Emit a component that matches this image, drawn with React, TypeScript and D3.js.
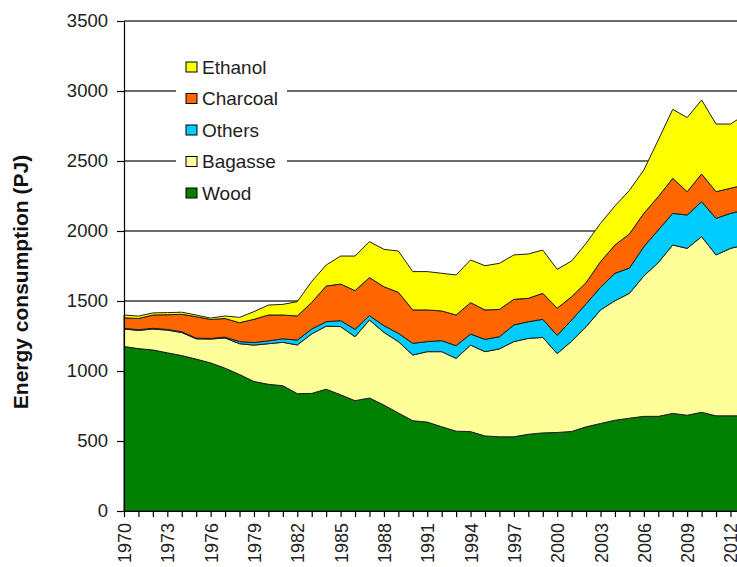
import React, { useRef, useEffect } from "react";
import * as d3 from "d3";

// years 1970..2013 (last one falls just outside the visible frame)
const years = [
  1970, 1971, 1972, 1973, 1974, 1975, 1976, 1977, 1978, 1979,
  1980, 1981, 1982, 1983, 1984, 1985, 1986, 1987, 1988, 1989,
  1990, 1991, 1992, 1993, 1994, 1995, 1996, 1997, 1998, 1999,
  2000, 2001, 2002, 2003, 2004, 2005, 2006, 2007, 2008, 2009,
  2010, 2011, 2012, 2013,
];

// PJ per source
const wood = [
  1175, 1160, 1150, 1130, 1110, 1085, 1058, 1020, 975, 925,
  905, 895, 838, 840, 870, 830, 788, 807, 757, 700,
  645, 635, 602, 570, 567, 536, 530, 530, 548, 558,
  561, 568, 601, 625, 648, 663, 676, 676, 697, 684,
  705, 680, 680, 680,
];
const bagasse = [
  125, 130, 150, 162, 165, 145, 170, 216, 220, 260,
  290, 310, 348, 425, 450, 487, 457, 557, 519, 510,
  469, 503, 536, 520, 618, 602, 628, 680, 685, 682,
  563, 645, 715, 811, 854, 892, 1003, 1098, 1203, 1192,
  1255, 1149, 1196, 1220,
];
const others = [
  5, 5, 5, 5, 5, 5, 5, 6, 15, 18,
  20, 25, 35, 35, 32, 43, 53, 31, 48, 59,
  84, 72, 79, 91, 79, 88, 87, 119, 119, 129,
  131, 151, 164, 162, 196, 180, 209, 233, 226, 238,
  250, 261, 250, 250,
];
const charcoal = [
  75, 80, 95, 105, 125, 153, 135, 133, 135, 166,
  185, 170, 172, 190, 255, 261, 276, 272, 278, 293,
  238, 226, 212, 219, 224, 210, 195, 183, 167, 186,
  193, 167, 151, 183, 202, 244, 238, 238, 250, 167,
  197, 191, 179, 180,
];
const ethanol = [
  20, 17, 15, 15, 15, 12, 10, 18, 38, 55,
  71, 76, 102, 150, 150, 200, 247, 257, 267, 295,
  274, 274, 269, 286, 305, 316, 329, 317, 317, 309,
  278, 255, 281, 274, 279, 311, 310, 405, 493, 529,
  529, 483, 459, 500,
];

const yTicks = [0, 500, 1000, 1500, 2000, 2500, 3000, 3500];
const xLabelYears = [1970, 1973, 1976, 1979, 1982, 1985, 1988, 1991, 1994, 1997, 2000, 2003, 2006, 2009, 2012];

const seriesKeys = ["Wood", "Bagasse", "Others", "Charcoal", "Ethanol"];
const seriesValues = [wood, bagasse, others, charcoal, ethanol];
const seriesColors = ["#008000", "#FFFF99", "#00CCFF", "#FF6600", "#FFFF00"];

const W = 737;
const H = 567;
const FONT = "'Liberation Sans', Arial, sans-serif";

const App = () => {
  const svgRef = useRef<SVGSVGElement>(null);

  useEffect(() => {
    const svg = d3.select(svgRef.current);
    svg.selectAll("*").remove();

    const rows = years.map((yr, i) => {
      const r: any = { year: yr };
      seriesKeys.forEach((k, j) => (r[k] = seriesValues[j][i]));
      return r;
    });

    const x = d3.scaleLinear().domain([1970, 2013]).range([124, 124 + 43 * 14.44]);
    const y = d3.scaleLinear().domain([0, 3500]).range([511, 21]);

    // gridlines
    svg.append("g")
      .selectAll("line")
      .data(yTicks.slice(1))
      .enter()
      .append("line")
      .attr("x1", x(1970))
      .attr("x2", W)
      .attr("y1", (d) => y(d))
      .attr("y2", (d) => y(d))
      .attr("stroke", "#3a3a3a")
      .attr("stroke-width", 1.4);

    // stacked areas
    const stacked = d3.stack().keys(seriesKeys)(rows);
    const area = d3.area<any>()
      .x((d) => x(d.data.year))
      .y0((d) => y(d[0]))
      .y1((d) => y(d[1]));

    svg.append("g")
      .selectAll("path")
      .data(stacked)
      .enter()
      .append("path")
      .attr("d", (d) => area(d as any))
      .attr("fill", (_, i) => seriesColors[i])
      .attr("stroke", "#1e1e1e")
      .attr("stroke-width", 1)
      .attr("stroke-linejoin", "round");

    // y axis
    const yAxis = svg.append("g")
      .attr("transform", `translate(${x(1970)},0)`)
      .call(
        d3.axisLeft(y)
          .tickValues(yTicks)
          .tickFormat(d3.format("d"))
          .tickSize(7)
          .tickPadding(9)
          .tickSizeOuter(0)
      );
    yAxis.select(".domain").attr("stroke", "#000").attr("stroke-width", 1.2);
    yAxis.selectAll(".tick line").attr("stroke", "#000").attr("stroke-width", 1.2);
    yAxis.selectAll("text")
      .attr("font-family", FONT)
      .attr("font-size", 18.5)
      .attr("fill", "#222");

    // x axis
    const xAxis = svg.append("g")
      .attr("transform", `translate(0,${y(0)})`)
      .call(
        d3.axisBottom(x)
          .tickValues(years)
          .tickSize(6)
          .tickSizeOuter(0)
          .tickFormat((d: any) => (xLabelYears.includes(d) ? String(d) : ""))
      );
    xAxis.select(".domain").attr("stroke", "#000").attr("stroke-width", 1.2);
    xAxis.selectAll(".tick line").attr("stroke", "#000").attr("stroke-width", 1.2);
    xAxis.selectAll("text")
      .attr("font-family", FONT)
      .attr("font-size", 18)
      .attr("fill", "#222")
      .attr("transform", "rotate(-90)")
      .attr("x", -12)
      .attr("y", 0)
      .attr("dy", "0.36em")
      .attr("text-anchor", "end");

    // axis title
    svg.append("text")
      .attr("transform", `translate(28,282) rotate(-90)`)
      .attr("text-anchor", "middle")
      .attr("font-family", FONT)
      .attr("font-weight", "bold")
      .attr("font-size", 21)
      .attr("fill", "#111")
      .text("Energy consumption (PJ)");

    // legend
    const legend = svg.append("g");
    legend.append("rect")
      .attr("x", 176)
      .attr("y", 46)
      .attr("width", 111)
      .attr("height", 165)
      .attr("fill", "#fff");
    const legendOrder = [...seriesKeys].reverse();
    const items = legend.selectAll("g.item")
      .data(legendOrder)
      .enter()
      .append("g")
      .attr("class", "item")
      .attr("transform", (_, i) => `translate(186,${67 + i * 31.5})`);
    items.append("rect")
      .attr("x", 0)
      .attr("y", -5)
      .attr("width", 11)
      .attr("height", 10)
      .attr("fill", (d) => seriesColors[seriesKeys.indexOf(d)])
      .attr("stroke", "#000")
      .attr("stroke-width", 1);
    items.append("text")
      .attr("x", 16)
      .attr("y", 0)
      .attr("dy", "0.36em")
      .attr("font-family", FONT)
      .attr("font-size", 19)
      .attr("fill", "#222")
      .text((d) => d);
  }, []);

  return (
    <svg
      ref={svgRef}
      width={W}
      height={H}
      style={{ position: "absolute", left: 0, top: 0, background: "#fff" }}
    />
  );
};

export default App;
